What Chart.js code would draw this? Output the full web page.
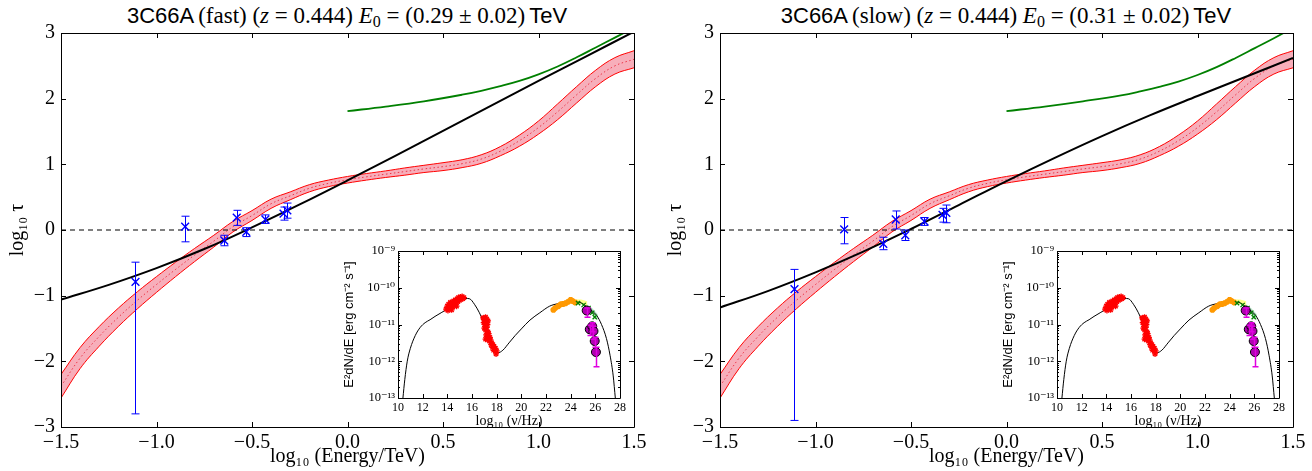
<!DOCTYPE html>
<html><head><meta charset="utf-8">
<script src="https://cdn.jsdelivr.net/npm/chart.js@4.4.1/dist/chart.umd.min.js"></script>
<style>
html,body{margin:0;padding:0;background:#fff}
body{width:1312px;height:471px;position:relative;overflow:hidden}
canvas{position:absolute}
.ttl{position:absolute;top:2px;white-space:nowrap;transform:translateX(-50%);line-height:28px;color:#000}
.sf{font-family:'Liberation Sans',Arial,sans-serif;font-size:22px}
.rm{font-family:'Liberation Serif',serif;font-size:23px}
.rm sub{font-size:16px;vertical-align:-4px;line-height:0}
</style></head><body>
<div class="ttl" style="left:347px"><span class="sf">3C66A</span> <span class="rm">(fast) (<i>z</i> = 0.444) <i>E</i><sub>0</sub> = (0.29 ± 0.02)</span> <span class="sf">TeV</span></div>
<div class="ttl" style="left:1006px"><span class="sf">3C66A</span> <span class="rm">(slow) (<i>z</i> = 0.444) <i>E</i><sub>0</sub> = (0.31 ± 0.02)</span> <span class="sf">TeV</span></div>
<canvas id="mainL" width="656" height="471" style="left:0;top:0"></canvas>
<canvas id="mainR" width="656" height="471" style="left:656px;top:0"></canvas>
<canvas id="insetL" width="300" height="195" style="left:335px;top:240px"></canvas>
<canvas id="insetR" width="300" height="195" style="left:994px;top:240px"></canvas>
<script>
// ================= main panels: log10 tau vs log10(E/TeV) =================
const bandX     = [-1.5,-1.4,-1.3,-1.2,-1.1,-1.0,-0.9,-0.8,-0.7,-0.6,-0.5,-0.4,-0.3,-0.2,-0.1,0.0,0.1,0.2,0.3,0.4,0.5,0.6,0.7,0.8,0.9,1.0,1.1,1.2,1.3,1.4,1.5];
const bandMid   = [-2.38,-1.95,-1.62,-1.33,-1.07,-0.83,-0.60,-0.38,-0.17,0.05,0.22,0.40,0.52,0.635,0.71,0.765,0.81,0.85,0.89,0.93,0.965,1.01,1.08,1.20,1.36,1.56,1.80,2.06,2.31,2.50,2.60];
const bandUpper = [-2.20,-1.79,-1.47,-1.19,-0.94,-0.71,-0.49,-0.28,-0.08,0.13,0.295,0.47,0.58,0.69,0.76,0.815,0.86,0.90,0.945,0.985,1.025,1.07,1.145,1.27,1.445,1.66,1.92,2.185,2.435,2.625,2.73];
const bandLower = [-2.56,-2.11,-1.77,-1.47,-1.20,-0.95,-0.71,-0.48,-0.26,-0.03,0.145,0.33,0.46,0.58,0.66,0.715,0.76,0.80,0.835,0.875,0.905,0.95,1.015,1.13,1.275,1.46,1.68,1.935,2.185,2.375,2.47];

const fitX      = [-1.5,-1.25,-1.0,-0.75,-0.5,-0.25,0,0.25,0.5,0.75,1.0,1.25,1.5];
const fitFast   = [-1.06,-0.835,-0.58,-0.29,0.04,0.39,0.755,1.13,1.51,1.89,2.27,2.645,3.02];
const fitSlow   = [-1.18,-0.93,-0.645,-0.33,0.015,0.38,0.745,1.095,1.43,1.745,2.04,2.33,2.62];

const greenX    = [0,0.2,0.4,0.6,0.7,0.8,0.9,1.0,1.1,1.2,1.3,1.4,1.5];
const greenFast = [1.81,1.88,1.96,2.06,2.12,2.19,2.27,2.37,2.49,2.63,2.78,2.93,3.08];
const greenSlow = [1.81,1.88,1.96,2.05,2.11,2.18,2.26,2.36,2.48,2.62,2.77,2.92,3.08];

const zeroX     = [-1.5,1.5];
const zeroY     = [0,0];

const tauE      = [-1.11,-0.85,-0.645,-0.58,-0.53,-0.43,-0.335,-0.315];
const tauFast   = [-0.79,0.05,-0.16,0.19,-0.03,0.16,0.25,0.30];
const tauFastHi = [-0.49,0.21,-0.08,0.30,0.035,0.23,0.35,0.41];
const tauFastLo = [-2.80,-0.18,-0.24,0.07,-0.10,0.10,0.15,0.18];
const tauSlow   = [-0.90,0.01,-0.21,0.16,-0.08,0.13,0.23,0.26];
const tauSlowHi = [-0.60,0.19,-0.11,0.29,0.00,0.19,0.33,0.38];
const tauSlowLo = [-2.90,-0.21,-0.30,0.015,-0.16,0.07,0.12,0.11];

const mainXTicks  = [-1.5,-1.0,-0.5,0.0,0.5,1.0,1.5];
const mainXLabels = ['\u22121.5','\u22121.0','\u22120.5','0.0','0.5','1.0','1.5'];
const mainYTicks  = [-3,-2,-1,0,1,2,3];
const mainYLabels = ['\u22123','\u22122','\u22121','0','1','2','3'];

// ================= inset: SED (log10 nu, log10 E^2 dN/dE) =================
const sedX = [10.4,10.55,10.75,11.0,11.4,11.8,12.2,12.6,13.0,13.5,14.0,14.5,15.0,15.5,15.8,16.2,16.6,17.0,17.4,17.8,18.1,18.5,19.0,19.5,20.0,20.7,21.5,22.3,23.0,23.7,24.3,24.9,25.5,26.1,26.5,26.9,27.2,27.45,27.62];
const sedY = [-13.0,-12.5,-12.0,-11.65,-11.3,-11.08,-10.95,-10.87,-10.78,-10.68,-10.58,-10.47,-10.36,-10.29,-10.3,-10.45,-10.68,-10.98,-11.3,-11.62,-11.77,-11.7,-11.5,-11.3,-11.12,-10.88,-10.68,-10.5,-10.43,-10.39,-10.38,-10.42,-10.57,-10.75,-11.0,-11.38,-11.85,-12.4,-13.0];

const optX = [13.9,14.0,14.05,14.1,14.2,14.25,14.3,14.35,14.4,14.45,14.5,14.6,14.65,14.7,14.75,14.8,14.85,14.9,15.0,15.05,15.1,15.2,15.25,15.35];
const optY = [-10.58,-10.5,-10.62,-10.45,-10.55,-10.4,-10.5,-10.6,-10.42,-10.52,-10.36,-10.45,-10.33,-10.41,-10.5,-10.3,-10.38,-10.27,-10.34,-10.25,-10.31,-10.24,-10.3,-10.27];

const xrayX = [16.9,17.0,17.1,17.2,16.95,17.05,17.15,17.25,17.3,17.0,17.1,17.2,17.3,17.15,17.25,17.35,17.45,17.1,17.3,17.4,17.5,17.6,17.55,17.7,17.65,17.8,17.75,17.9,18.0,17.95];
const xrayY = [-10.82,-10.85,-10.8,-10.86,-10.95,-11.0,-10.93,-11.0,-10.9,-11.1,-11.15,-11.08,-11.2,-11.28,-11.32,-11.25,-11.35,-11.4,-11.4,-11.45,-11.42,-11.5,-11.55,-11.55,-11.62,-11.6,-11.7,-11.65,-11.72,-11.8];

const latX = [22.6,22.75,23.0,23.2,23.4,23.6,23.8,24.0,24.15,24.35];
const latY = [-10.6,-10.55,-10.5,-10.45,-10.44,-10.42,-10.38,-10.33,-10.36,-10.4];

const yelX  = [24.4,24.85,25.35];
const yelHi = [-10.31,-10.32,-10.37];
const yelLo = [-10.42,-10.45,-10.5];

const grnBandX  = [25.3,25.75,26.2];
const grnBandHi = [-10.45,-10.56,-10.72];
const grnBandLo = [-10.55,-10.7,-10.9];

const grnX = [24.6,25.05,25.45,25.75,25.95];
const grnY = [-10.42,-10.47,-10.55,-10.68,-10.8];

const magX  = [25.3,25.55,25.75,25.85,25.95,26.05];
const magY  = [-10.62,-11.13,-11.05,-11.18,-11.45,-11.75];
const magHi = [-10.55,-11.02,-10.95,-11.05,-11.35,-11.62];
const magLo = [-10.8,-11.3,-11.2,-11.4,-11.62,-12.15];

const insetXTicks  = [10,12,14,16,18,20,22,24,26,28];
const insetXLabels = ['10','12','14','16','18','20','22','24','26','28'];
const insetYTicks  = [1e-13,1e-12,1e-11,1e-10,1e-9];
const insetYLabels = ['10\u207B\u00B9\u00B3','10\u207B\u00B9\u00B2','10\u207B\u00B9\u00B9','10\u207B\u00B9\u2070','10\u207B\u2079'];

// ================= helpers & plugins =================
const P = (xs, ys) => xs.map((x, i) => ({x: x, y: ys[i]}));
const PL = (xs, ys) => xs.map((x, i) => ({x: x, y: Math.pow(10, ys[i])}));
const L10 = a => a.map(v => Math.pow(10, v));

const frameTicks = {
  id: 'frameTicks',
  beforeDatasetsDraw(chart, args, o) {
    if (!o.bg) return;
    const a = chart.chartArea, c = chart.ctx;
    c.save(); c.fillStyle = o.bg; c.fillRect(a.left, a.top, a.right - a.left, a.bottom - a.top); c.restore();
  },
  afterDatasetsDraw(chart, args, o) {
    const c = chart.ctx, a = chart.chartArea, xs = chart.scales.x, ys = chart.scales.y;
    const r = v => Math.round(v) + 0.5;
    c.save();
    c.strokeStyle = '#000'; c.lineWidth = 1;
    c.beginPath();
    c.rect(r(a.left), r(a.top), Math.round(a.right) - Math.round(a.left), Math.round(a.bottom) - Math.round(a.top));
    const L = o.len;
    xs.ticks.forEach(t => {
      const p = r(xs.getPixelForValue(t.value));
      c.moveTo(p, a.bottom); c.lineTo(p, a.bottom - L);
      c.moveTo(p, a.top); c.lineTo(p, a.top + L);
    });
    ys.ticks.forEach(t => {
      const p = r(ys.getPixelForValue(t.value));
      c.moveTo(a.left, p); c.lineTo(a.left + L, p);
      c.moveTo(a.right, p); c.lineTo(a.right - L, p);
    });
    if (o.minorY) {
      o.minorY.forEach(v => {
        const p = r(ys.getPixelForValue(v));
        c.moveTo(a.left, p); c.lineTo(a.left + o.minorLen, p);
        c.moveTo(a.right, p); c.lineTo(a.right - o.minorLen, p);
      });
    }
    c.stroke();
    c.restore();
  }
};

const errBars = {
  id: 'errBars',
  afterDatasetsDraw(chart) {
    const c = chart.ctx, xs = chart.scales.x, ys = chart.scales.y;
    chart.data.datasets.forEach(ds => {
      if (!ds.errHi) return;
      c.save();
      c.strokeStyle = ds.errColor; c.lineWidth = ds.errWidth || 1;
      c.beginPath();
      ds.data.forEach((p, j) => {
        const x = Math.round(xs.getPixelForValue(p.x)) + 0.5;
        const y1 = ys.getPixelForValue(ds.errHi[j]);
        const y2 = ys.getPixelForValue(ds.errLo[j]);
        const k = ds.cap;
        c.moveTo(x, y1); c.lineTo(x, y2);
        c.moveTo(x - k, y1); c.lineTo(x + k, y1);
        c.moveTo(x - k, y2); c.lineTo(x + k, y2);
      });
      c.stroke();
      c.restore();
    });
  }
};

const serif = "'Liberation Serif', 'DejaVu Serif', serif";
const sans = "'Liberation Sans', Arial, sans-serif";

function lineDS(data, color, width, extra) {
  return Object.assign({data: data, showLine: true, borderColor: color, backgroundColor: color,
    borderWidth: width, pointRadius: 0, pointHoverRadius: 0, tension: 0.4, fill: false}, extra || {});
}

function makeMain(id, fit, green, tau, tauHi, tauLo, yWidth, padRight, yTitlePad) {
  const ds = [];
  ds.push({data: P(tauE, tau), showLine: false, pointStyle: 'crossRot', pointRadius: 5.5, pointBorderWidth: 1.4,
    borderColor: '#0000ff', backgroundColor: '#0000ff', errHi: tauHi, errLo: tauLo, errColor: '#0000ff', cap: 4, order: 0});
  ds.push(lineDS(P(fitX, fit), '#000000', 2, {order: 1}));
  ds.push(lineDS(P(greenX, green), '#008000', 1.8, {order: 2}));
  ds.push(lineDS(P(zeroX, zeroY), '#000000', 1, {borderDash: [5, 4], tension: 0, order: 3}));
  ds.push(lineDS(P(bandX, bandMid), 'rgba(235,40,60,0.9)', 1, {borderDash: [1.5, 2.5], order: 4}));
  ds.push(lineDS(P(bandX, bandUpper), '#ff0000', 1, {order: 5}));
  const upperIndex = ds.length - 1;
  ds.push(lineDS(P(bandX, bandLower), '#ff0000', 1, {order: 6, fill: {target: upperIndex}, backgroundColor: 'rgba(242,120,140,0.6)'}));
  return new Chart(document.getElementById(id), {
    type: 'scatter',
    data: {datasets: ds},
    plugins: [frameTicks, errBars],
    options: {
      responsive: false, animation: false, devicePixelRatio: 1,
      layout: {padding: {top: 33, right: padRight, left: 0, bottom: 0}},
      plugins: {legend: {display: false}, tooltip: {enabled: false}, title: {display: false},
        frameTicks: {len: 5}},
      scales: {
        x: {type: 'linear', min: -1.5, max: 1.5,
          afterBuildTicks: s => { s.ticks = mainXTicks.map(v => ({value: v})); },
          afterFit: s => { s.height = 44; },
          grid: {display: false, drawTicks: false}, border: {display: false},
          ticks: {autoSkip: false, maxRotation: 0, padding: 4, color: '#000', font: {family: serif, size: 20},
            callback: (v, i) => mainXLabels[i]},
          title: {display: true, text: 'log\u2081\u2080 (Energy/TeV)', color: '#000', font: {family: serif, size: 20},
            padding: {top: 0, bottom: 2}}
        },
        y: {type: 'linear', min: -3, max: 3,
          afterBuildTicks: s => { s.ticks = mainYTicks.map(v => ({value: v})); },
          afterFit: s => { s.width = yWidth; },
          grid: {display: false, drawTicks: false}, border: {display: false},
          ticks: {autoSkip: false, padding: 6, color: '#000', font: {family: serif, size: 20},
            callback: (v, i) => mainYLabels[i]},
          title: {display: true, text: 'log\u2081\u2080 \u03C4', color: '#000', font: {family: serif, size: 20},
            padding: {top: yTitlePad, bottom: 0}}
        }
      }
    }
  });
}

function makeInset(id) {
  const minor = [];
  for (let n = -13; n < -9; n++) for (let k = 2; k <= 9; k++) minor.push(k * Math.pow(10, n));
  const ds = [];
  ds.push({data: PL(magX, magY), showLine: false, pointStyle: 'circle', pointRadius: 4.5, pointBorderWidth: 1,
    borderColor: '#000', backgroundColor: '#b000b0', errHi: L10(magHi), errLo: L10(magLo), errColor: '#e000e0', errWidth: 1.5, cap: 3, order: 0});
  ds.push({data: PL(grnX, grnY), showLine: false, pointStyle: 'crossRot', pointRadius: 3, pointBorderWidth: 1.3,
    borderColor: '#008000', backgroundColor: '#008000', order: 1});
  ds.push({data: PL(latX, latY), showLine: false, pointStyle: 'star', pointRadius: 3, pointBorderWidth: 2,
    borderColor: '#ff9900', backgroundColor: '#ff9900', order: 2});
  ds.push({data: PL(xrayX, xrayY), showLine: false, pointStyle: 'star', pointRadius: 3, pointBorderWidth: 1.3,
    borderColor: '#ff0000', backgroundColor: '#ff0000', order: 3});
  ds.push({data: PL(optX, optY), showLine: false, pointStyle: 'star', pointRadius: 3, pointBorderWidth: 1.3,
    borderColor: '#ff0000', backgroundColor: '#ff0000', order: 4});
  ds.push(lineDS(PL(sedX, sedY), '#000000', 1, {order: 5, tension: 0, cubicInterpolationMode: 'monotone'}));
  ds.push(lineDS(PL(yelX, yelHi), 'rgba(0,0,0,0)', 0, {order: 6, tension: 0}));
  const yi = ds.length - 1;
  ds.push(lineDS(PL(yelX, yelLo), 'rgba(0,0,0,0)', 0, {order: 7, tension: 0, fill: {target: yi}, backgroundColor: 'rgba(255,255,60,0.6)'}));
  ds.push(lineDS(PL(grnBandX, grnBandHi), 'rgba(0,0,0,0)', 0, {order: 8, tension: 0}));
  const gi = ds.length - 1;
  ds.push(lineDS(PL(grnBandX, grnBandLo), 'rgba(0,0,0,0)', 0, {order: 9, tension: 0, fill: {target: gi}, backgroundColor: 'rgba(120,210,150,0.55)'}));
  return new Chart(document.getElementById(id), {
    type: 'scatter',
    data: {datasets: ds},
    plugins: [frameTicks, errBars],
    options: {
      responsive: false, animation: false, devicePixelRatio: 1,
      layout: {padding: {top: 11, right: 15, left: 0, bottom: 0}},
      plugins: {legend: {display: false}, tooltip: {enabled: false}, title: {display: false},
        frameTicks: {len: 4, bg: '#ffffff', minorY: minor, minorLen: 2}},
      scales: {
        x: {type: 'linear', min: 10, max: 28,
          afterBuildTicks: s => { s.ticks = insetXTicks.map(v => ({value: v})); },
          afterFit: s => { s.height = 37; },
          grid: {display: false, drawTicks: false}, border: {display: false},
          ticks: {autoSkip: false, maxRotation: 0, padding: 3, color: '#000', font: {family: serif, size: 12},
            callback: (v, i) => insetXLabels[i]},
          title: {display: true, text: 'log\u2081\u2080 (\u03BD/Hz)', color: '#000', font: {family: serif, size: 14},
            padding: {top: 0, bottom: 5}}
        },
        y: {type: 'logarithmic', min: 1e-13, max: 1e-9,
          afterBuildTicks: s => { s.ticks = insetYTicks.map(v => ({value: v, major: true})); },
          afterFit: s => { s.width = 63; },
          grid: {display: false, drawTicks: false}, border: {display: false},
          ticks: {autoSkip: false, padding: 3, color: '#000', font: {family: serif, size: 12.5},
            callback: (v, i) => insetYLabels[i]},
          title: {display: true, text: 'E\u00B2dN/dE [erg cm\u207B\u00B2 s\u207B\u00B9]', color: '#000', font: {family: sans, size: 13},
            padding: {top: 7, bottom: 0}}
        }
      }
    }
  });
}

makeMain('mainL', fitFast, greenFast, tauFast, tauFastHi, tauFastLo, 61, 22, 6);
makeMain('mainR', fitSlow, greenSlow, tauSlow, tauSlowHi, tauSlowLo, 64, 19, 8);
makeInset('insetL');
makeInset('insetR');
</script>
</body></html>
